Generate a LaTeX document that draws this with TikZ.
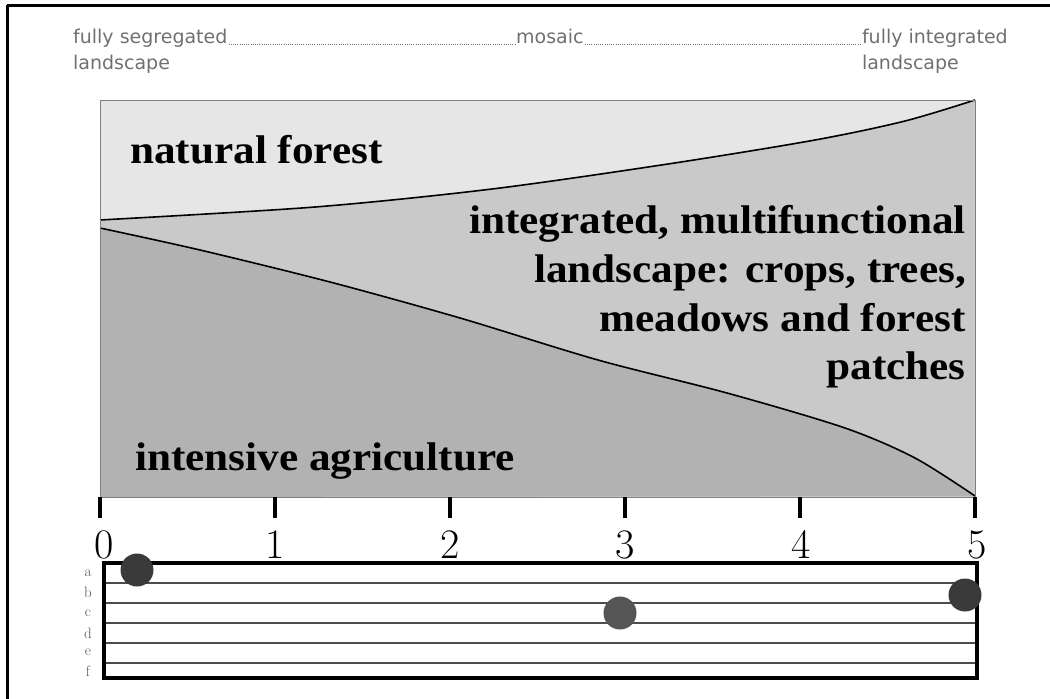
\documentclass[tikz,border=0pt]{standalone}
\usepackage{fontspec}
\newfontfamily\labfont{Liberation Serif}[FakeStretch=1.08]
\newfontfamily\topfont{DejaVu Sans}
\newfontfamily\numfont{Latin Modern Roman}
\definecolor{forestc}{HTML}{E6E6E6}
\definecolor{integc}{HTML}{C9C9C9}
\definecolor{agric}{HTML}{B2B2B2}
\definecolor{toptext}{HTML}{707070}
\definecolor{dotdark}{HTML}{3A3A3A}
\definecolor{dotmid}{HTML}{555555}
\begin{document}
\begin{tikzpicture}[x=1pt,y=-1pt,
  toplabel/.style={font=\topfont\fontsize{19}{22}\selectfont, text=toptext, inner sep=1pt},
  arealabel/.style={font=\labfont\bfseries\fontsize{40}{48}\selectfont, inner sep=0pt},
  numlabel/.style={font=\numfont\fontsize{42}{48}\selectfont, inner sep=0pt, anchor=base},
  rowlabel/.style={font=\numfont\fontsize{15}{16}\selectfont, text=dotmid, inner sep=0pt},
  tickmark/.style={line width=4pt},
  boundary/.style={line width=1.6pt, black},
  scoredot/.style={circle, inner sep=0pt, minimum size=33pt},
  rowline/.style={line width=1.2pt, black!70},
  dotline/.style={toptext, line width=1pt, dash pattern=on 1pt off 1.2pt}]
\useasboundingbox (0,0) rectangle (1050,699);
% outer frame (top and left)
\draw[line width=3pt] (7,5) -- (1050,5);
\draw[line width=3pt] (7,5) -- (7,699);

% top scale
\node[toplabel, anchor=base west] (seg) at (72,43) {fully segregated};
\node[toplabel, anchor=base west] (segl) at ([yshift=-26pt]seg.base west) {landscape};
\node[toplabel, anchor=base west] (mos) at (515,43) {mosaic};
\node[toplabel, anchor=base east] (fint) at (1009,43) {fully integrated};
\node[toplabel, anchor=base west] (fintl) at ([yshift=-26pt]fint.base west) {landscape};
\draw[dotline] ([yshift=-1pt]seg.base east) -- ([yshift=-1pt]mos.base west);
\draw[dotline] ([yshift=-1pt]mos.base east) -- ([yshift=-1pt]fint.base west);

% chart areas
\fill[forestc] (100,100) rectangle (975,497);
\fill[integc] plot[smooth] coordinates {(100,220) (315,207) (492,189) (668,164) (815,140) (905,121) (975,100)} -- (975,497) -- (100,497) -- cycle;
\fill[agric] plot[smooth] coordinates {(100,228) (200,250) (330,282) (460,318) (598,360) (727,393) (845,428) (915,458) (975,496)} -- (100,497) -- cycle;
\draw[boundary] plot[smooth] coordinates {(100,220) (315,207) (492,189) (668,164) (815,140) (905,121) (975,100)};
\draw[boundary] plot[smooth] coordinates {(100,228) (200,250) (330,282) (460,318) (598,360) (727,393) (845,428) (915,458) (975,496)};
\draw[gray, line width=1pt] (100,100) rectangle (975,497);

% area labels
\node[arealabel, anchor=base west] (nf) at (130,163) {natural forest};
\node[arealabel, anchor=base east] (int1) at (966,233) {integrated, multifunctional};
\node[arealabel, anchor=base east] (int2) at (966,282) {landscape: crops, trees,};
\node[arealabel, anchor=base east] (int3) at (966,331) {meadows and forest};
\node[arealabel, anchor=base east] (int4) at (966,379) {patches};
\node[arealabel, anchor=base west] (ia) at (135,470) {intensive agriculture};

% axis ticks and numbers
\foreach \i/\x in {0/100,1/275,2/450,3/625,4/800,5/975}{
  \draw[tickmark] (\x,497) -- (\x,518);
}
\node[numlabel] (n0) at (104,558) {0};
\node[numlabel] (n1) at (275,558) {1};
\node[numlabel] (n2) at (450,558) {2};
\node[numlabel] (n3) at (625,558) {3};
\node[numlabel] (n4) at (801,558) {4};
\node[numlabel] (n5) at (977,558) {5};

% bottom box
\foreach \y in {583,603,623,643,663}{
  \draw[rowline] (104,\y) -- (977,\y);
}
\draw[line width=4pt] (104,563) rectangle (977,678);
\foreach \l/\y in {a/573,b/592,c/613,d/633,e/652,f/671}{
  \node[rowlabel] (row\l) at (88,\y) {\l};
}

% score dots
\node[scoredot, fill=dotdark] (dotA) at (137,570) {};
\node[scoredot, fill=dotmid] (dotB) at (620,613) {};
\node[scoredot, fill=dotdark] (dotC) at (965,595) {};
\end{tikzpicture}
\end{document}
